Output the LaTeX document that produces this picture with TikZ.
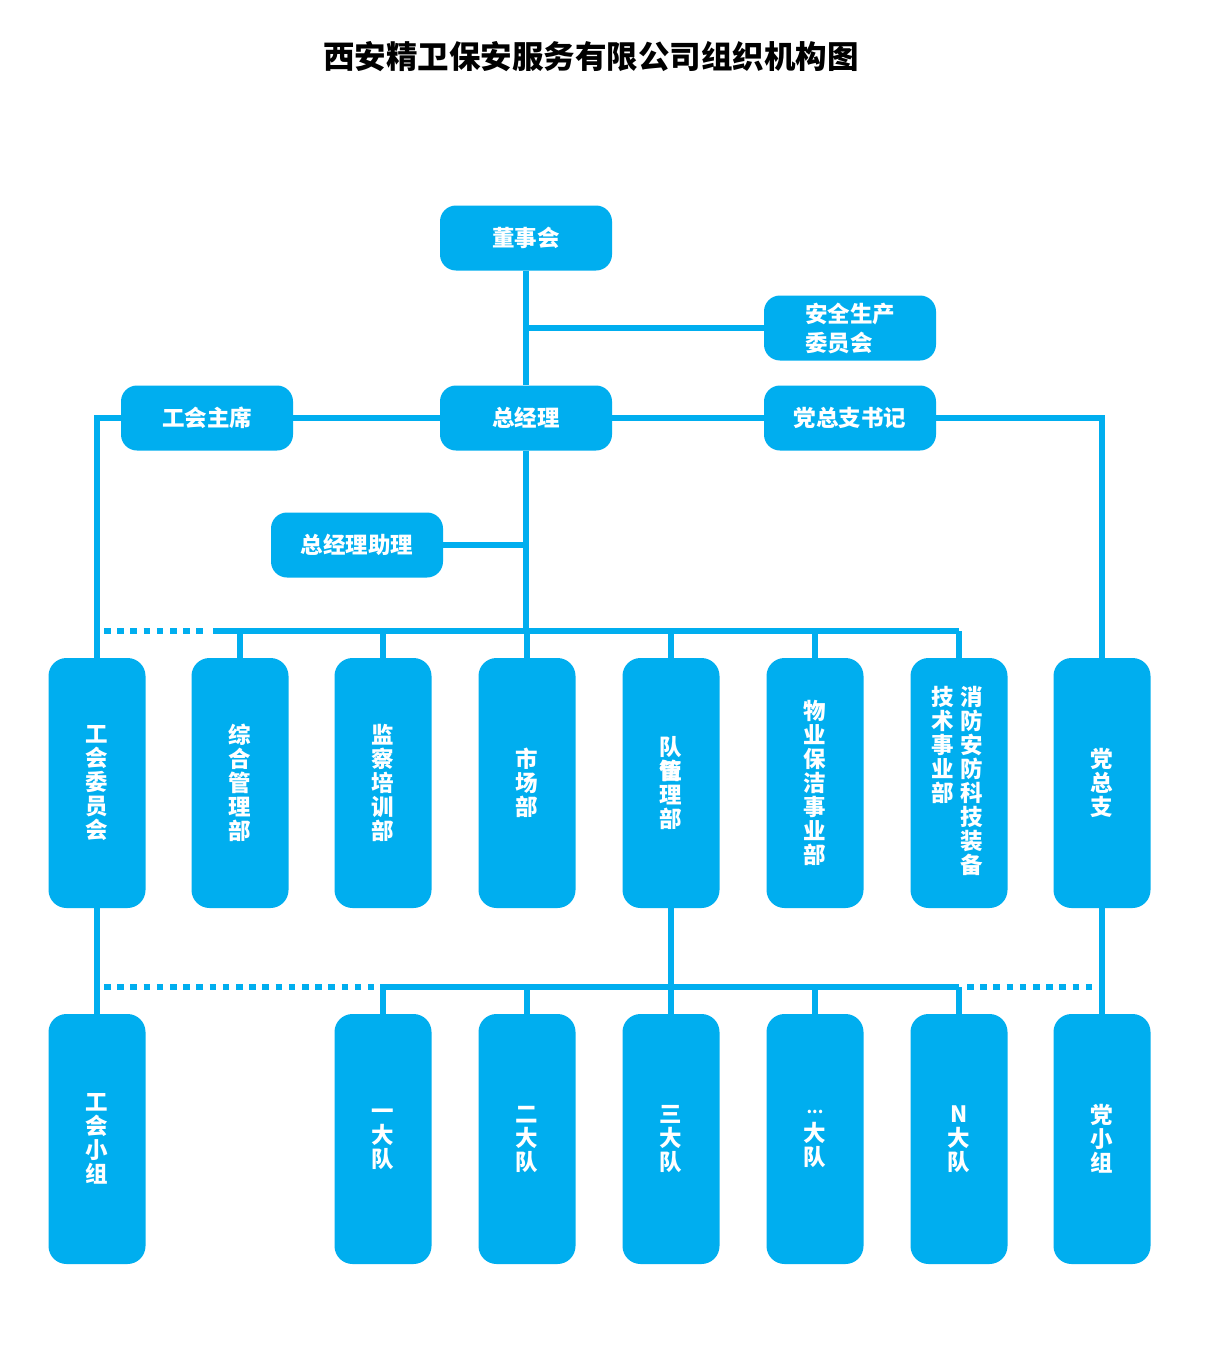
\documentclass[tikz,border=0pt]{standalone}
\usepackage{fontspec}
\newfontfamily\cjk{Noto Sans CJK SC}
\definecolor{orgblue}{HTML}{00AEEF}
\begin{document}
\begin{tikzpicture}[x=1pt,y=-1pt,
  hbox/.style={rectangle,rounded corners=16pt,fill=orgblue,draw=none,minimum width=172pt,minimum height=65pt,inner sep=0pt,text=white,font=\cjk\bfseries\fontsize{22.5}{29}\selectfont,align=center},
  vbox/.style={rectangle,rounded corners=18pt,fill=orgblue,draw=none,minimum width=97pt,minimum height=250pt,inner sep=0pt,text=white,font=\cjk\bfseries\fontsize{22.5}{24}\selectfont,align=center},
  vtext/.style={inner sep=0pt,text=white,font=\cjk\bfseries\fontsize{22.5}{24}\selectfont,align=center},
  conn/.style={draw=orgblue,line width=6.5pt},
  dotline/.style={draw=orgblue,line width=6.5pt,dash pattern=on 6.6pt off 6.6pt}]
\useasboundingbox[fill=white] (0,0) rectangle (1219,1362);
\node[font=\cjk\bfseries\fontsize{31.5}{34}\selectfont,text=black] (title) at (591,57) {西安精卫保安服务有限公司组织机构图};
% top level
\node[hbox] (dsh) at (526,238) {董事会};
\node[hbox,align=left] (aq) at (850,328) {安全生产\\委员会};
\node[hbox] (gh) at (207,418) {工会主席};
\node[hbox] (zjl) at (526,418) {总经理};
\node[hbox] (dzs) at (850,418) {党总支书记};
\node[hbox] (zl) at (357,545) {总经理助理};
% row 2
\node[vbox] (ghwy) at (97,783) {工\\会\\委\\员\\会};
\node[vbox] (zh) at (240,783) {综\\合\\管\\理\\部};
\node[vbox] (jc) at (383,783) {监\\察\\培\\训\\部};
\node[vbox] (sc) at (527,783) {市\\场\\部};
\node[vbox] (dw) at (671,783) {队\\\rlap{伍}管\\理\\部};
\node[vbox] (wy) at (815,783) {物\\业\\保\\洁\\事\\业\\部};
\node[vbox] (xf) at (959,783) {};
\node[vtext,anchor=north] (xfa) at (972,686) {消\\防\\安\\防\\科\\技\\装\\备};
\node[vtext,anchor=north] (xfb) at (943,686) {技\\术\\事\\业\\部};
\node[vbox] (dz) at (1102,783) {党\\总\\支};
% row 3
\node[vbox] (ghxz) at (97,1139) {工\\会\\小\\组};
\node[vbox] (d1) at (383,1139) {一\\大\\队};
\node[vbox] (d2) at (527,1139) {二\\大\\队};
\node[vbox] (d3) at (671,1139) {三\\大\\队};
\node[vbox] (d4) at (815,1139) {\raisebox{4pt}{\fontsize{16}{16}\selectfont ...}\\大\\队};
\node[vbox] (dn) at (959,1139) {N\\大\\队};
\node[vbox] (dxz) at (1102,1139) {党\\小\\组};
% coordinates
\coordinate (bus) at (0,631);
\coordinate (bus2) at (0,987);
\coordinate (b1s) at (213,631);
\coordinate (b1d) at (104,631);
\coordinate (b1e) at (204,631);
\coordinate (b2s) at (380,987);
\coordinate (b2d) at (104,987);
\coordinate (b2e) at (374,987);
\coordinate (b3s) at (967,987);
\coordinate (b3e) at (1098,987);
% connectors top
\draw[conn] (dsh.south) -- (zjl.north);
\draw[conn] (aq.west) -- (aq.west -| dsh.south);
\draw[conn] (gh.east) -- (zjl.west);
\draw[conn] (zjl.east) -- (dzs.west);
\draw[conn] (dzs.east) -- (dzs.east -| dz.north) -- (dz.north);
\draw[conn] (gh.west) -- (gh.west -| ghwy.north) -- (ghwy.north);
\draw[conn] (zjl.south) -- (zjl.south |- bus);
\draw[conn] (zl.east) -- (zl.east -| zjl.south);
% bus row 2
\draw[conn] (b1s) -- (xf.north |- bus);
\draw[dotline] (b1d) -- (b1e);
\foreach \n in {zh,jc,sc,dw,wy,xf}{\draw[conn] (\n.north |- bus) -- (\n.north);}
% bus row 3
\draw[conn] (ghwy.south) -- (ghxz.north);
\draw[conn] (dz.south) -- (dxz.north);
\draw[conn] (dw.south) -- (dw.south |- bus2);
\draw[conn] (b2s) -- (dn.north |- bus2);
\draw[dotline] (b2d) -- (b2e);
\draw[dotline] (b3s) -- (b3e);
\foreach \n in {d1,d2,d3,d4,dn}{\draw[conn] (\n.north |- bus2) -- (\n.north);}
\end{tikzpicture}
\end{document}
